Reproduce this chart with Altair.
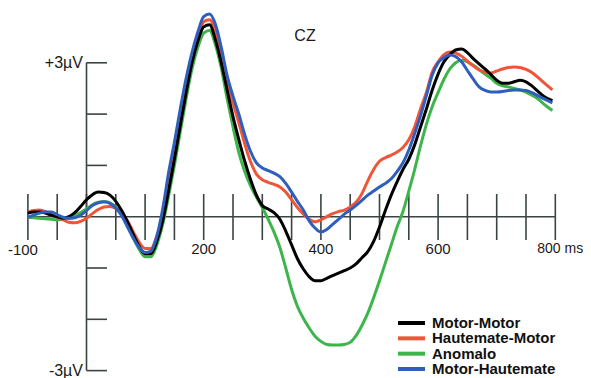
import altair as alt
import pandas as pd

# ---- data (time in ms, amplitude in microvolts) ----
times = [-100, -90, -80, -70, -60, -50, -40, -30, -20, -10,
         0, 10, 20, 30, 40, 50, 60, 70, 80, 90,
         100, 110, 120, 130, 140, 150, 160, 170, 180, 190,
         200, 210, 220, 230, 240, 250, 260, 270, 280, 290,
         300, 310, 320, 330, 340, 350, 360, 370, 380, 390,
         400, 410, 420, 430, 440, 450, 460, 470, 480, 490,
         500, 510, 520, 530, 540, 550, 560, 570, 580, 590,
         600, 610, 620, 630, 640, 650, 660, 670, 680, 690,
         700, 710, 720, 730, 740, 750, 760, 770, 780, 795]

motor_motor = [0.07, 0.09, 0.09, 0.07, 0.03, 0.00, -0.03, 0.00, 0.08, 0.20,
               0.33, 0.43, 0.48, 0.47, 0.42, 0.30, 0.12, -0.10, -0.35, -0.58,
               -0.72, -0.72, -0.48, -0.08, 0.50, 1.12, 1.78, 2.42, 3.00, 3.42,
               3.70, 3.74, 3.45, 3.00, 2.47, 1.95, 1.50, 1.08, 0.72, 0.42,
               0.22, 0.15, 0.08, -0.05, -0.28, -0.55, -0.82, -1.02, -1.17, -1.25,
               -1.25, -1.20, -1.15, -1.10, -1.05, -1.00, -0.92, -0.80, -0.68, -0.48,
               -0.20, 0.12, 0.42, 0.68, 0.92, 1.12, 1.40, 1.75, 2.10, 2.47,
               2.78, 3.02, 3.16, 3.25, 3.27, 3.20, 3.08, 2.98, 2.88, 2.77,
               2.66, 2.60, 2.60, 2.63, 2.66, 2.63, 2.55, 2.45, 2.35, 2.26]

hautemate_motor = [0.09, 0.12, 0.13, 0.10, 0.04, -0.01, -0.06, -0.11, -0.12, -0.09,
                   -0.03, 0.06, 0.14, 0.19, 0.20, 0.16, 0.06, -0.08, -0.30, -0.50,
                   -0.62, -0.62, -0.38, 0.00, 0.62, 1.25, 1.90, 2.55, 3.10, 3.50,
                   3.80, 3.84, 3.62, 3.20, 2.65, 2.22, 1.83, 1.42, 1.07, 0.83,
                   0.72, 0.67, 0.63, 0.58, 0.48, 0.33, 0.18, 0.05, -0.05, -0.10,
                   -0.06, 0.00, 0.06, 0.10, 0.13, 0.19, 0.28, 0.45, 0.70, 0.92,
                   1.08, 1.15, 1.20, 1.26, 1.35, 1.50, 1.75, 2.10, 2.42, 2.82,
                   3.02, 3.16, 3.21, 3.19, 3.13, 3.03, 2.94, 2.86, 2.82, 2.80,
                   2.84, 2.88, 2.91, 2.92, 2.91, 2.87, 2.81, 2.72, 2.62, 2.47]

anomalo = [-0.01, -0.02, -0.03, -0.04, -0.05, -0.06, -0.05, -0.03, 0.02, 0.08,
           0.15, 0.23, 0.28, 0.29, 0.27, 0.19, 0.04, -0.18, -0.42, -0.64,
           -0.78, -0.78, -0.55, -0.15, 0.40, 1.00, 1.65, 2.30, 2.88, 3.30,
           3.58, 3.63, 3.35, 2.90, 2.30, 1.75, 1.25, 0.88, 0.60, 0.38,
           0.18, -0.05, -0.30, -0.60, -1.00, -1.42, -1.75, -1.98, -2.17, -2.33,
           -2.43, -2.49, -2.50, -2.50, -2.49, -2.45, -2.32, -2.12, -1.88, -1.58,
           -1.25, -0.90, -0.55, -0.20, 0.10, 0.50, 0.92, 1.38, 1.80, 2.15,
           2.42, 2.68, 2.88, 3.00, 3.05, 3.02, 2.95, 2.87, 2.78, 2.70,
           2.60, 2.55, 2.53, 2.50, 2.47, 2.43, 2.37, 2.30, 2.20, 2.07]

motor_hautemate = [-0.01, 0.03, 0.07, 0.09, 0.09, 0.04, -0.01, -0.03, -0.02, 0.03,
                   0.12, 0.22, 0.27, 0.29, 0.26, 0.17, 0.02, -0.20, -0.42, -0.60,
                   -0.70, -0.67, -0.38, 0.15, 0.85, 1.45, 2.10, 2.70, 3.20, 3.60,
                   3.90, 3.95, 3.75, 3.30, 2.75, 2.35, 2.00, 1.60, 1.27, 1.05,
                   0.95, 0.90, 0.85, 0.78, 0.65, 0.48, 0.30, 0.13, -0.08, -0.22,
                   -0.30, -0.25, -0.15, -0.05, 0.05, 0.13, 0.22, 0.32, 0.42, 0.50,
                   0.58, 0.65, 0.74, 0.88, 1.05, 1.30, 1.62, 1.97, 2.36, 2.76,
                   3.00, 3.10, 3.15, 3.12, 3.02, 2.85, 2.68, 2.53, 2.46, 2.43,
                   2.43, 2.44, 2.46, 2.47, 2.47, 2.46, 2.42, 2.36, 2.30, 2.22]

series_names = ["Motor-Motor", "Hautemate-Motor", "Anomalo", "Motor-Hautemate"]
series_colors = ["#000000", "#f0553a", "#3db54a", "#2f5fbd"]
draw_order = ["Anomalo", "Hautemate-Motor", "Motor-Motor", "Motor-Hautemate"]

x_ticks = [-100, -50, 0, 50, 100, 150, 200, 250, 300, 350, 400,
           450, 500, 550, 600, 650, 700, 750, 800]
x_labels = [200, 400, 600]
x_first_label = [-100]
x_last_label = [800]
y_ticks = [-3, -2, -1, 1, 2, 3]
y_label_values = [3, -3]
y_label_texts = ["+3µV", "-3µV"]
title_text = "CZ"

# ---- tables ----
values_by_name = {
    "Motor-Motor": motor_motor,
    "Hautemate-Motor": hautemate_motor,
    "Anomalo": anomalo,
    "Motor-Hautemate": motor_hautemate,
}
rows = []
for name in draw_order:
    for t, v in zip(times, values_by_name[name]):
        rows.append({"ms": t, "uv": v, "cond": name})
df = pd.DataFrame(rows)

W, H = 575, 370
xs = alt.Scale(domain=[-133.96, 847.27], nice=False, zero=False)
ys = alt.Scale(domain=[-3.144, 4.068], nice=False, zero=False)
color_scale = alt.Scale(domain=series_names, range=series_colors)
legend_y = alt.Scale(type="point", domain=series_names, range=[315, 361], padding=0)
AX = "#3a4444"
FONT = "Liberation Sans"

lines = alt.Chart(df).mark_line(strokeWidth=3, interpolate="monotone").encode(
    x=alt.X("ms:Q", scale=xs, axis=None),
    y=alt.Y("uv:Q", scale=ys, axis=None),
    color=alt.Color("cond:N", scale=color_scale, legend=None),
)

x_axis_line = alt.Chart(pd.DataFrame({"a": [x_ticks[0]], "b": [x_ticks[-1]], "y": [0]})).mark_rule(
    color=AX, strokeWidth=1.6).encode(
    x=alt.X("a:Q", scale=xs, axis=None), x2="b:Q", y=alt.Y("y:Q", scale=ys, axis=None))

y_axis_line = alt.Chart(pd.DataFrame({"x": [0], "a": [y_ticks[0]], "b": [y_ticks[-1]]})).mark_rule(
    color=AX, strokeWidth=1.6).encode(
    x=alt.X("x:Q", scale=xs, axis=None), y=alt.Y("a:Q", scale=ys, axis=None), y2="b:Q")

x_tick_marks = alt.Chart(pd.DataFrame({"t": x_ticks})).mark_rule(
    color=AX, strokeWidth=1.6).encode(
    x=alt.X("t:Q", scale=xs, axis=None), y=alt.value(186), y2=alt.value(232))

y_tick_marks = alt.Chart(pd.DataFrame({"v": y_ticks})).mark_rule(
    color=AX, strokeWidth=1.6).encode(
    x=alt.value(78.5), x2=alt.value(99), y=alt.Y("v:Q", scale=ys, axis=None))

x_lab = alt.Chart(pd.DataFrame({"t": x_labels, "s": [str(v) for v in x_labels]})).mark_text(
    font=FONT, fontSize=15, color="#1a1a1a", align="center", baseline="middle").encode(
    x=alt.X("t:Q", scale=xs, axis=None), y=alt.value(241), text="s:N")

x_lab_first = alt.Chart(pd.DataFrame({"t": x_first_label, "s": [str(v) for v in x_first_label]})).mark_text(
    font=FONT, fontSize=15, color="#1a1a1a", align="center", baseline="middle", dx=-5).encode(
    x=alt.X("t:Q", scale=xs, axis=None), y=alt.value(242), text="s:N")

x_lab_last = alt.Chart(pd.DataFrame({"t": x_last_label, "s": [f"{v} ms" for v in x_last_label]})).mark_text(
    font=FONT, fontSize=14, color="#1a1a1a", align="left", baseline="middle", dx=-18).encode(
    x=alt.X("t:Q", scale=xs, axis=None), y=alt.value(241), text="s:N")

y_lab = alt.Chart(pd.DataFrame({"v": y_label_values, "s": y_label_texts})).mark_text(
    font=FONT, fontSize=16, color="#1a1a1a", align="right", baseline="middle").encode(
    x=alt.value(75), y=alt.Y("v:Q", scale=ys, axis=None), text="s:N")

title = alt.Chart(pd.DataFrame({"s": [title_text]})).mark_text(
    font=FONT, fontSize=16, color="#1a1a1a", align="center", baseline="middle").encode(
    x=alt.value(297), y=alt.value(28), text="s:N")

legend_df = pd.DataFrame({"cond": series_names})
leg_rules = alt.Chart(legend_df).mark_rule(strokeWidth=4).encode(
    x=alt.value(390), x2=alt.value(417),
    y=alt.Y("cond:N", scale=legend_y, axis=None),
    color=alt.Color("cond:N", scale=color_scale, legend=None),
)
leg_text = alt.Chart(legend_df).mark_text(
    font=FONT, fontSize=15, fontWeight="bold", color="#111111",
    align="left", baseline="middle").encode(
    x=alt.value(424),
    y=alt.Y("cond:N", scale=legend_y, axis=None),
    text="cond:N",
)

chart = alt.layer(
    x_axis_line, y_axis_line, x_tick_marks, y_tick_marks,
    lines, x_lab, x_lab_first, x_lab_last, y_lab, title,
    leg_rules, leg_text,
).resolve_scale(y="independent").properties(
    width=W, height=H,
    autosize=alt.AutoSizeParams(type="none"),
    padding=0, background="white",
).configure_view(stroke=None)

chart.save("out.html", embed_options={"renderer": "svg", "actions": False})
